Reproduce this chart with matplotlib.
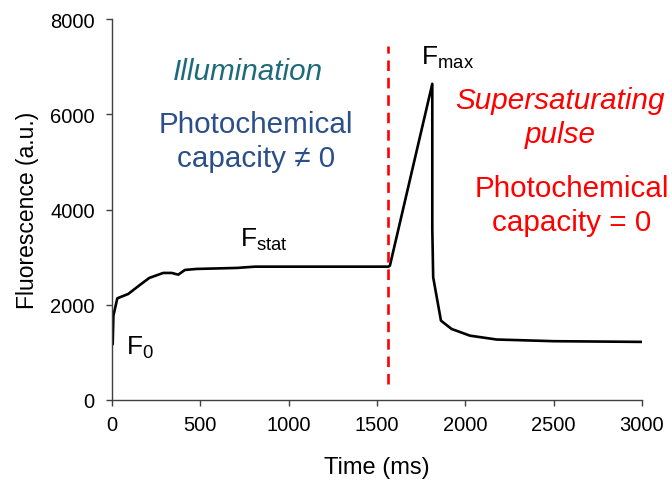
import matplotlib
matplotlib.use("Agg")
import matplotlib.pyplot as plt

plt.rcParams['font.family'] = ['Liberation Sans', 'DejaVu Sans']
plt.rcParams['mathtext.fontset'] = 'custom'
plt.rcParams['mathtext.rm'] = 'Liberation Sans'
plt.rcParams['mathtext.it'] = 'Liberation Sans:italic'

# Fluorescence trace
time_ms = [0, 4, 8, 30, 92, 158, 211, 290, 338, 375, 413, 479, 706, 809, 1564,
           1573, 1813, 1813, 1818, 1862, 1922, 2026, 2177, 2500, 3000]
fluor = [1150, 1176, 1770, 2135, 2227, 2416, 2563, 2668, 2668, 2632, 2731, 2752,
         2773, 2800, 2800, 2820, 6639, 3592, 2577, 1666, 1492, 1351, 1270, 1235, 1220]

pulse_time = 1560
pulse_range = [336, 7443]

x_ticks = [0, 500, 1000, 1500, 2000, 2500, 3000]
y_ticks = [0, 2000, 4000, 6000, 8000]

fig = plt.figure(figsize=(6.72, 4.81), dpi=100)
ax = fig.add_axes([112/672, 80/481, 530/672, 381/481])

ax.plot(time_ms, fluor, color='black', lw=1.9, solid_joinstyle='round')
ax.plot([pulse_time, pulse_time], pulse_range, color='#ff0000', lw=1.9,
        dashes=(4, 2.6))

ax.set_xlim(0, 3000)
ax.set_ylim(0, 8000)
ax.set_xticks(x_ticks)
ax.set_yticks(y_ticks)
ax.tick_params(labelsize=14.5, direction='out', length=4.5, width=1, color='#404040')
ax.tick_params(axis='x', pad=6)
ax.tick_params(axis='y', pad=8)
for s in ['top', 'right']:
    ax.spines[s].set_visible(False)
for s in ['left', 'bottom']:
    ax.spines[s].set_color('#404040')
    ax.spines[s].set_linewidth(1)
ax.set_xlabel('Time (ms)', fontsize=17, labelpad=16)
ax.set_ylabel('Fluorescence (a.u.)', fontsize=16.5, labelpad=8)

ax.text(770, 6907, 'Illumination', style='italic', color='#1f6a7a', fontsize=21.3,
        ha='center', va='center')
ax.text(815, 5430, 'Photochemical\ncapacity \u2260 0', color='#2b4f8a', fontsize=21.3,
        ha='center', va='center', linespacing=1.27)
ax.text(2535, 5945, 'Supersaturating\npulse', style='italic', color='#ff0000',
        fontsize=21.3, ha='center', va='center', linespacing=1.27)
ax.text(2603, 4090, 'Photochemical\ncapacity = 0', color='#ff0000', fontsize=21.3,
        ha='center', va='center', linespacing=1.27)

ax.text(79, 966, r'F$_{\mathrm{0}}$', fontsize=19, ha='left', va='baseline')
ax.text(724, 3235, r'F$_{\mathrm{stat}}$', fontsize=19, ha='left', va='baseline')
ax.text(1749, 7059, r'F$_{\mathrm{max}}$', fontsize=19, ha='left', va='baseline')

fig.savefig('out.png', dpi=100)
